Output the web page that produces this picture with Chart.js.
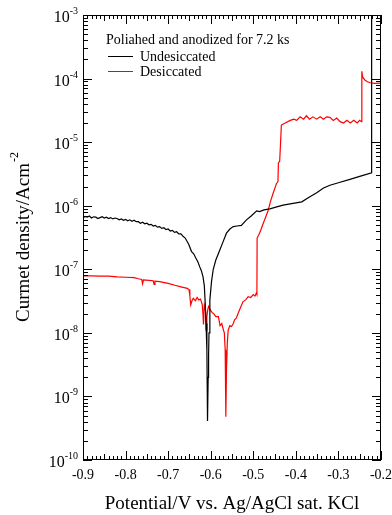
<!DOCTYPE html>
<html>
<head>
<meta charset="utf-8">
<script src="https://cdn.jsdelivr.net/npm/chart.js@4.4.0/dist/chart.umd.min.js"></script>
<style>
  body { margin: 0; background: #fff; }
  canvas { display: block; }
</style>
</head>
<body>
<canvas id="chart" width="392" height="515"></canvas>
<script>
// Undesiccated (black)
const undesPot = [-0.900, -0.895, -0.890, -0.885, -0.880, -0.875, -0.870, -0.865, -0.860, -0.855,
  -0.850, -0.845, -0.840, -0.835, -0.830, -0.825, -0.820, -0.815, -0.810, -0.805,
  -0.800, -0.795, -0.790, -0.785, -0.780, -0.775, -0.770, -0.765, -0.760, -0.755,
  -0.750, -0.745, -0.740, -0.735, -0.730, -0.725, -0.720, -0.715, -0.710, -0.705,
  -0.700, -0.695, -0.690, -0.685, -0.680, -0.675, -0.670, -0.665, -0.660, -0.652,
  -0.645, -0.640, -0.635, -0.630, -0.626, -0.622, -0.618, -0.615, -0.613, -0.611,
  -0.609, -0.6075, -0.606, -0.605, -0.604, -0.602, -0.598, -0.594, -0.588, -0.580,
  -0.572, -0.563, -0.555, -0.547, -0.538, -0.528, -0.516, -0.505, -0.492, -0.485,
  -0.475, -0.461, -0.445, -0.430, -0.410, -0.386, -0.370, -0.351, -0.335, -0.320,
  -0.300, -0.273, -0.250, -0.222, -0.222];
const undesCur = [6.5e-7, 6.8e-7, 6.6e-7, 6.9e-7, 6.4e-7, 6.7e-7, 6.6e-7, 6.3e-7, 6.5e-7, 6.7e-7,
  6.4e-7, 6.6e-7, 6.3e-7, 6.5e-7, 6.2e-7, 6.4e-7, 6.3e-7, 6.0e-7, 6.2e-7, 5.9e-7,
  6.1e-7, 5.8e-7, 6.0e-7, 5.7e-7, 5.9e-7, 5.6e-7, 5.6e-7, 5.3e-7, 5.5e-7, 5.2e-7,
  5.3e-7, 5.0e-7, 5.1e-7, 4.8e-7, 4.9e-7, 4.6e-7, 4.7e-7, 4.4e-7, 4.5e-7, 4.2e-7,
  4.3e-7, 4.0e-7, 4.1e-7, 3.8e-7, 3.9e-7, 3.6e-7, 3.6e-7, 3.3e-7, 3.1e-7, 2.5e-7,
  1.9e-7, 1.75e-7, 1.5e-7, 1.3e-7, 1.1e-7, 9.5e-8, 7.6e-8, 5.5e-8, 3.0e-8, 1.4e-8,
  5.4e-9, 4.1e-10, 2.0e-9, 4.5e-9, 1.0e-8, 3.3e-8, 6.5e-8, 1.0e-7, 1.4e-7, 1.9e-7,
  2.6e-7, 3.7e-7, 4.3e-7, 4.7e-7, 4.8e-7, 4.9e-7, 6.0e-7, 6.9e-7, 8.3e-7, 8.1e-7,
  8.6e-7, 8.9e-7, 9.6e-7, 1.02e-6, 1.08e-6, 1.15e-6, 1.35e-6, 1.6e-6, 1.9e-6, 2.1e-6,
  2.3e-6, 2.6e-6, 2.9e-6, 3.3e-6, 1e-3];

// Desiccated (red)
const desPot = [-0.900, -0.880, -0.860, -0.840, -0.820, -0.800, -0.780, -0.770, -0.762, -0.760,
  -0.758, -0.745, -0.735, -0.733, -0.731, -0.720, -0.700, -0.684, -0.670, -0.655,
  -0.651, -0.649, -0.647, -0.644, -0.641, -0.636, -0.632, -0.628, -0.624, -0.620,
  -0.618, -0.617, -0.615, -0.612, -0.611, -0.609, -0.607, -0.605, -0.601, -0.597,
  -0.593, -0.588, -0.582, -0.578, -0.574, -0.570, -0.568, -0.566, -0.5645, -0.563,
  -0.561, -0.559, -0.555, -0.551, -0.547, -0.544, -0.540, -0.536, -0.530, -0.524,
  -0.518, -0.512, -0.506, -0.500, -0.496, -0.493, -0.4915, -0.491, -0.487, -0.482,
  -0.477, -0.471, -0.465, -0.459, -0.453, -0.448, -0.446, -0.442, -0.441, -0.438,
  -0.434, -0.425, -0.413, -0.405, -0.398, -0.390, -0.382, -0.375, -0.368, -0.360,
  -0.351, -0.343, -0.335, -0.328, -0.320, -0.312, -0.304, -0.296, -0.288, -0.280,
  -0.272, -0.264, -0.256, -0.250, -0.246, -0.245, -0.243, -0.238, -0.232, -0.225,
  -0.215, -0.200];
const desCur = [7.9e-8, 7.9e-8, 7.8e-8, 7.8e-8, 7.6e-8, 7.5e-8, 7.4e-8, 7.1e-8, 6.9e-8, 5.9e-8,
  6.8e-8, 6.7e-8, 6.6e-8, 5.8e-8, 6.5e-8, 6.4e-8, 6.0e-8, 5.6e-8, 5.3e-8, 5.0e-8,
  4.8e-8, 3.8e-8, 2.75e-8, 3.2e-8, 3.5e-8, 3.2e-8, 3.6e-8, 3.3e-8, 3.4e-8, 2.8e-8,
  1.9e-8, 1.35e-8, 2.7e-8, 2.2e-8, 1.1e-8, 1.8e-8, 2.3e-8, 2.6e-8, 2.3e-8, 2.1e-8,
  2.0e-8, 1.8e-8, 1.8e-8, 1.3e-8, 1.4e-8, 1.1e-8, 1.0e-8, 5.4e-9, 4.8e-10, 2.5e-9,
  6.9e-9, 1.1e-8, 1.3e-8, 1.26e-8, 1.4e-8, 1.6e-8, 1.7e-8, 2.0e-8, 2.5e-8, 3.1e-8,
  3.3e-8, 3.7e-8, 3.6e-8, 4.0e-8, 3.8e-8, 4.2e-8, 4.0e-8, 3.1e-7, 3.5e-7, 4.2e-7,
  5.2e-7, 6.6e-7, 8.5e-7, 1.2e-6, 1.6e-6, 2.0e-6, 2.2e-6, 2.4e-6, 4.7e-6, 5.0e-6,
  1.86e-5, 2.0e-5, 2.2e-5, 2.3e-5, 2.2e-5, 2.5e-5, 2.3e-5, 2.6e-5, 2.3e-5, 2.5e-5,
  2.3e-5, 2.5e-5, 2.3e-5, 2.5e-5, 2.45e-5, 2.2e-5, 2.4e-5, 2.1e-5, 2.0e-5, 2.2e-5,
  2.0e-5, 2.2e-5, 2.0e-5, 2.2e-5, 2.1e-5, 1.3e-4, 1.05e-4, 9.5e-5, 8.9e-5, 8.6e-5,
  8.4e-5, 8.5e-5];

const xTickLabels = ["-0.9", "-0.8", "-0.7", "-0.6", "-0.5", "-0.4", "-0.3", "-0.2"];
const yExponents = [-10, -9, -8, -7, -6, -5, -4, -3];

const legendTitle = "Poliahed and anodized for 7.2 ks";
const seriesNames = ["Undesiccated", "Desiccated"];
const seriesColors = ["#000000", "#ff0000"];

const SERIF = "'Liberation Serif', 'DejaVu Serif', serif";

function toPoints(xs, ys) {
  return xs.map((v, i) => ({ x: v, y: ys[i] }));
}

// frame, inward ticks on all four sides, labels and legend
const axisDecor = {
  id: "axisDecor",
  afterDraw(chart) {
    const { ctx, chartArea: a, scales } = chart;
    const xs = scales.x, ys = scales.y;
    ctx.save();
    ctx.strokeStyle = "#000";
    ctx.lineWidth = 1;

    const seg = (x1, y1, x2, y2) => {
      ctx.beginPath();
      ctx.moveTo(x1, y1);
      ctx.lineTo(x2, y2);
      ctx.stroke();
    };

    ctx.strokeRect(a.left + 0.5, a.top + 0.5, a.right - a.left - 1, a.bottom - a.top - 1);

    // x ticks every 0.01
    for (let i = 0; i <= 70; i++) {
      const px = Math.round(xs.getPixelForValue(-0.9 + i * 0.01)) + 0.5;
      const len = i % 10 === 0 ? 9 : (i % 5 === 0 ? 6 : 4);
      seg(px, a.bottom, px, a.bottom - len);
      seg(px, a.top, px, a.top + len);
    }

    // y ticks, log minors
    for (let e = -10; e <= -3; e++) {
      for (let m = 1; m <= 9; m++) {
        if (e === -3 && m > 1) break;
        const py = Math.round(ys.getPixelForValue(m * Math.pow(10, e))) + 0.5;
        const len = m === 1 ? 9 : 5;
        seg(a.left, py, a.left + len, py);
        seg(a.right, py, a.right - len, py);
      }
    }

    ctx.fillStyle = "#000";
    ctx.textBaseline = "alphabetic";

    // x tick labels
    ctx.font = "14px " + SERIF;
    ctx.textAlign = "center";
    xTickLabels.forEach(t => {
      ctx.fillText(t, xs.getPixelForValue(parseFloat(t)), 479);
    });

    // y tick labels 10^n
    yExponents.forEach(e => {
      const py = ys.getPixelForValue(Math.pow(10, e));
      ctx.font = "10px " + SERIF;
      ctx.textAlign = "right";
      const sup = String(e);
      const w = ctx.measureText(sup).width;
      ctx.fillText(sup, 78, py - 1);
      ctx.font = "16px " + SERIF;
      ctx.fillText("10", 78 - w, py + 7);
    });

    // x title
    ctx.font = "19px " + SERIF;
    ctx.textAlign = "center";
    ctx.fillText("Potential/V vs. Ag/AgCl sat. KCl", (a.left + a.right) / 2, 509);

    // y title, rotated
    ctx.save();
    ctx.translate(29, (a.top + a.bottom) / 2);
    ctx.rotate(-Math.PI / 2);
    ctx.font = "19px " + SERIF;
    const main = "Curmet density/Acm";
    const mw = ctx.measureText(main).width;
    ctx.font = "12px " + SERIF;
    const sw = ctx.measureText("-2").width;
    const start = -(mw + sw) / 2;
    ctx.textAlign = "left";
    ctx.font = "19px " + SERIF;
    ctx.fillText(main, start, 0);
    ctx.font = "12px " + SERIF;
    ctx.fillText("-2", start + mw + 1, -11);
    ctx.restore();

    // legend
    ctx.font = "14px " + SERIF;
    ctx.textAlign = "left";
    ctx.fillText(legendTitle, 106, 44);
    seriesNames.forEach((name, i) => {
      const ly = 55.5 + i * 15.5;
      ctx.strokeStyle = seriesColors[i];
      seg(108, Math.round(ly) + 0.5, 133, Math.round(ly) + 0.5);
      ctx.fillText(name, 140, ly + 5);
    });

    ctx.restore();
  }
};

new Chart(document.getElementById("chart"), {
  type: "scatter",
  data: {
    datasets: [
      {
        label: seriesNames[0],
        data: toPoints(undesPot, undesCur),
        borderColor: seriesColors[0],
        showLine: true,
        borderWidth: 1.2,
        pointRadius: 0,
        tension: 0
      },
      {
        label: seriesNames[1],
        data: toPoints(desPot, desCur),
        borderColor: seriesColors[1],
        showLine: true,
        borderWidth: 1.2,
        pointRadius: 0,
        tension: 0
      }
    ]
  },
  options: {
    responsive: false,
    animation: false,
    devicePixelRatio: 1,
    layout: { padding: { left: 83, right: 11, top: 15, bottom: 55 } },
    plugins: {
      legend: { display: false },
      tooltip: { enabled: false }
    },
    scales: {
      x: {
        type: "linear",
        min: -0.9,
        max: -0.2,
        ticks: { display: false },
        grid: { display: false },
        border: { display: false },
        afterFit: s => { s.height = 0; }
      },
      y: {
        type: "logarithmic",
        min: 1e-10,
        max: 1e-3,
        ticks: { display: false },
        grid: { display: false },
        border: { display: false },
        afterFit: s => { s.width = 0; }
      }
    }
  },
  plugins: [axisDecor]
});
</script>
</body>
</html>
